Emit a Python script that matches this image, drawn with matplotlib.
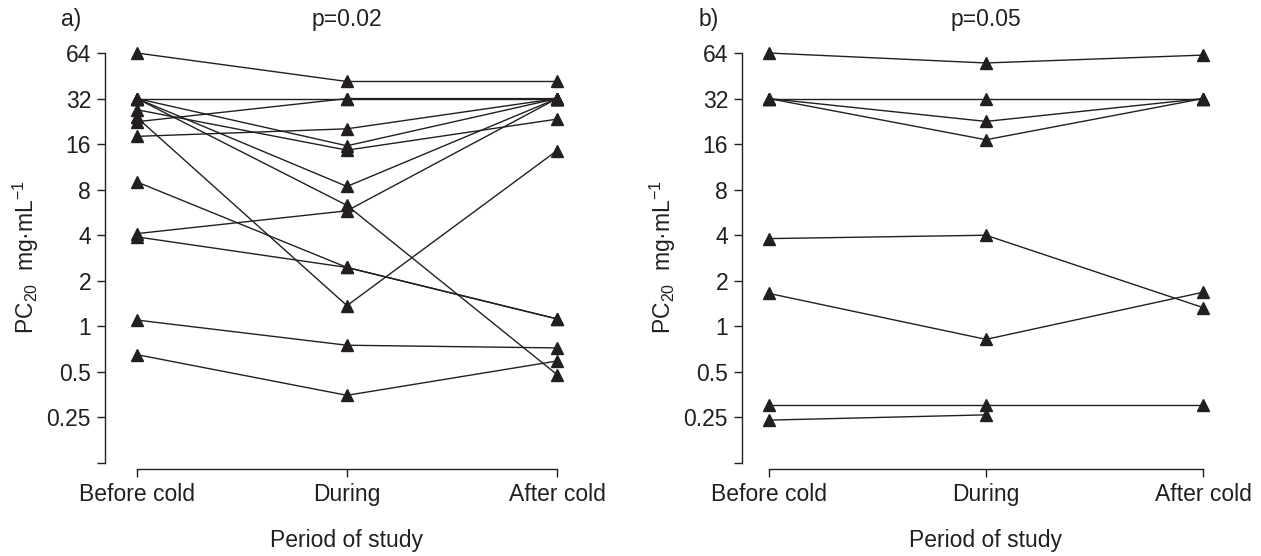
import numpy as np
import matplotlib
matplotlib.use("Agg")
import matplotlib.pyplot as plt
from matplotlib.ticker import FixedLocator, NullLocator
from matplotlib.transforms import blended_transform_factory

plt.rcParams['font.family'] = ['Liberation Sans', 'DejaVu Sans']
plt.rcParams['mathtext.default'] = 'regular'

# data (PC20, mg/mL), one row per subject
periods = ["Before cold", "During", "After cold"]

before_a = [64, 32, 22.5, 18, 24, 9, 4.1, 3.9, 1.1, 0.65, 32, 32, 27, 32]
during_a = [41.5, 32, 32, 20.2, 1.37, 2.45, 5.8, 2.45, 0.75, 0.35, 6.3, 15.6, 14.6, 8.4]
after_a = [41.5, 32, 32, 32, 14.5, 1.12, 32, 1.12, 0.72, 0.59, 0.48, 32, 23.4, 32]

before_b = [64, 32, 32, 32, 3.8, 1.65, 0.30, 0.24]
during_b = [55, 32, 22.6, 17.1, 4.0, 0.82, 0.30, 0.26]
after_b = [62, 32, 32, 32, 1.33, 1.68, 0.30, np.nan]

yticks = [0.125, 0.25, 0.5, 1, 2, 4, 8, 16, 32, 64]
ytick_labels = ["", "0.25", "0.5", "1", "2", "4", "8", "16", "32", "64"]

FS = 16.5
INK = '#231f20'
W, H = 1261, 556
fig = plt.figure(figsize=(W / 100, H / 100), dpi=100)


def panel(left_px, right_px, xl, letter, ptxt, before, during, after):
    ax = fig.add_axes([left_px / W, (H - 469) / H, (right_px - left_px) / W, (469 - 45) / H])
    for b, d, a in zip(before, during, after):
        ax.plot([0, 1, 2], [b, d, a], color=INK, lw=1.0, marker='^',
                ms=9, mfc=INK, mec=INK, clip_on=False)
    ax.set_yscale('log', base=2)
    ax.set_ylim(2 ** -3.132, 2 ** 6.176)
    ax.set_xlim(*xl)
    ax.yaxis.set_major_locator(FixedLocator(yticks))
    ax.yaxis.set_minor_locator(NullLocator())
    ax.set_yticklabels(ytick_labels)
    ax.set_xticks([0, 1, 2])
    ax.set_xticklabels(periods)
    for s in ['top', 'right']:
        ax.spines[s].set_visible(False)
    ax.spines['left'].set_bounds(0.125, 64)
    ax.spines['bottom'].set_bounds(0, 2)
    for s in ['left', 'bottom']:
        ax.spines[s].set_linewidth(1.0)
        ax.spines[s].set_color(INK)
    ax.tick_params(axis='both', direction='out', length=6, width=1.0,
                   color=INK, labelsize=FS, labelcolor=INK, pad=4)
    trans = blended_transform_factory(ax.transData, ax.transAxes)
    ax.set_xlabel("Period of study", fontsize=FS, color=INK)
    ax.xaxis.set_label_coords(1.0, -0.142, transform=trans)
    ax.set_ylabel(r"PC$_{20}$  mg·mL$^{-1}$", fontsize=FS, color=INK, labelpad=4)
    ax.text(1.0, 1.0 + 14 / 424, ptxt, transform=trans, fontsize=FS,
            color=INK, ha='center', va='bottom')
    ax.text(-0.05, 1.0 + 14 / 424, letter, transform=ax.transAxes, fontsize=FS,
            color=INK, ha='right', va='bottom')
    return ax


panel(105, 570, (-0.152, 2.062), "a)", "p=0.02", before_a, during_a, after_a)
panel(742, 1215, (-0.124, 2.055), "b)", "p=0.05", before_b, during_b, after_b)

fig.savefig("out.png", dpi=100)
